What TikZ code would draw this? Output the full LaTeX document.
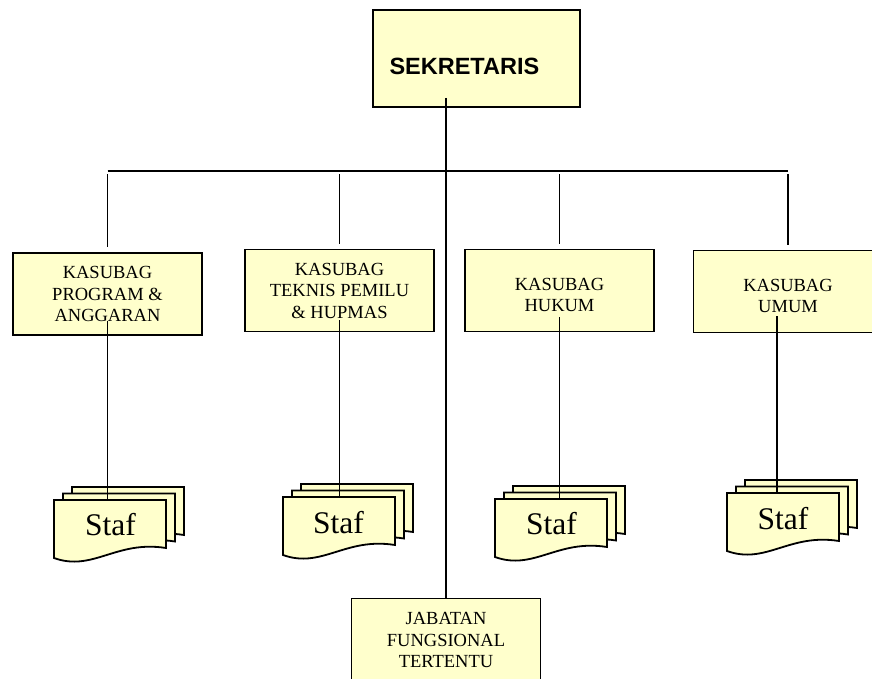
\documentclass[tikz,border=0pt]{standalone}
\usepackage{fontspec}
\setmainfont{Liberation Serif}
\newfontfamily\arial{Liberation Sans}
\definecolor{kuning}{HTML}{FFFFCC}
\tikzset{
	garis/.style={line width=1.8pt},
	kotak/.style={draw, line width=1.8pt, fill=kuning, minimum width=189pt, minimum height=82pt, align=center, inner sep=0pt, font=\fontsize{18.5}{21.5}\selectfont},
	dok/.style={draw, line width=1.8pt, fill=kuning, line join=miter},
	tekstaf/.style={anchor=base, inner sep=0pt, font=\fontsize{31.5}{36}\selectfont},
}
% tiga lembar dokumen bertumpuk, #1,#2 = pojok kiri atas lembar depan
\newcommand{\tumpukstaf}[2]{%
	\foreach \d in {2,1,0}
		\draw[dok, shift={(#1+9*\d,#2-6.5*\d)}] (0,0) -- (112,0) -- (112,48) .. controls (62,40) and (39,72) .. (0,58) -- cycle;
}
\begin{document}
\begin{tikzpicture}[x=1pt,y=-1pt]
	\useasboundingbox (0,0) rectangle (872,678);
	\coordinate (bus) at (0,171);
	\node[kotak, minimum width=207pt, minimum height=97pt, text width=174pt, align=left, text height=31pt, text depth=0pt, font=\arial\bfseries\fontsize{23.5}{26}\selectfont] (sekretaris) at (476.5,58.5) {SEKRETARIS};
	\node[kotak] (program) at (107.5,294) {KASUBAG\\PROGRAM \&\\ANGGARAN};
	\node[kotak] (teknis) at (339.5,290.5) {KASUBAG\\TEKNIS PEMILU\\\& HUPMAS};
	\node[kotak] (hukum) at (559.5,290.5) {\mbox{}\\KASUBAG\\HUKUM};
	\node[kotak] (umum) at (788,291.5) {\mbox{}\\KASUBAG\\UMUM};
	\node[kotak, minimum height=83pt] (jabatan) at (446,640) {JABATAN\\FUNGSIONAL\\TERTENTU};
	% staf
	\tumpukstaf{54}{500}
	\tumpukstaf{283}{497}
	\tumpukstaf{495}{499}
	\tumpukstaf{727}{493}
	\coordinate (atasA) at (54,500);
	\coordinate (atasB) at (283,497);
	\coordinate (atasC) at (495,499);
	\coordinate (atasD) at (727,493);
	\node[tekstaf] (stafA) at (110.5,535) {Staf};
	\node[tekstaf] (stafB) at (338.5,533) {Staf};
	\node[tekstaf] (stafC) at (551.5,534) {Staf};
	\node[tekstaf] (stafD) at (783,529) {Staf};
	% garis
	\draw[garis] ([yshift=10pt]sekretaris.south -| jabatan.north) -- (jabatan.north);
	\draw[garis] (program.north |- bus) -- (umum.north |- bus);
	\draw[garis, shorten <=3pt, shorten >=5pt] (program.north |- bus) -- (program.north);
	\draw[garis, shorten <=3pt, shorten >=5pt] (teknis.north |- bus) -- (teknis.north);
	\draw[garis, shorten <=3pt, shorten >=5pt] (hukum.north |- bus) -- (hukum.north);
	\draw[garis, shorten <=3pt, shorten >=5pt] (umum.north |- bus) -- (umum.north);
	\draw[garis] ([yshift=15pt]program.south) -- (program.south |- atasA);
	\draw[garis] ([yshift=12pt]teknis.south) -- (teknis.south |- atasB);
	\draw[garis] ([yshift=15pt]hukum.south) -- (hukum.south |- atasC);
	\draw[garis] ([xshift=-11pt,yshift=17pt]umum.south) -- ([xshift=-11pt]umum.south |- atasD);
\end{tikzpicture}
\end{document}
